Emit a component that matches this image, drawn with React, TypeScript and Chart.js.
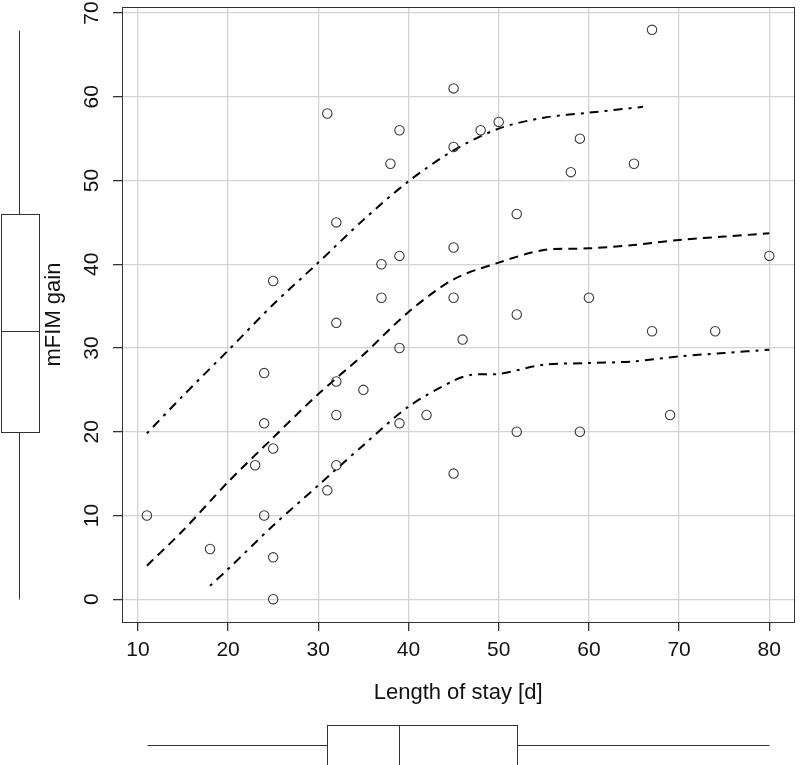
import React, { useEffect, useRef } from 'react';
import { Chart, registerables } from 'chart.js';

Chart.register(...registerables);

// Scatter data: length of stay [d] vs mFIM gain
const losDays = [11, 18, 23, 24, 24, 24, 25, 25, 25, 25, 31, 31, 32, 32, 32, 32, 32, 35, 37, 37, 38, 39, 39, 39, 39, 42, 45, 45, 45, 45, 45, 46, 48, 50, 52, 52, 52, 58, 59, 59, 60, 65, 67, 67, 69, 74, 80];
const mfimGain = [10, 6, 16, 27, 21, 10, 38, 18, 5, 0, 58, 13, 45, 33, 26, 22, 16, 25, 40, 36, 52, 56, 41, 30, 21, 22, 61, 54, 42, 36, 15, 31, 56, 57, 46, 34, 20, 51, 55, 20, 36, 52, 68, 32, 22, 32, 41];

// Quantile curves
const upperX = [11, 15, 20, 25, 30, 35, 40, 45, 50, 55, 60, 66];
const upperY = [19.8, 24.3, 29.7, 35.2, 40.2, 45.3, 49.9, 53.6, 56.2, 57.5, 58.1, 58.8];
const medianX = [11, 15, 20, 25, 30, 35, 40, 45, 50, 55, 60, 65, 70, 75, 80];
const medianY = [4.0, 8.2, 14.0, 19.3, 24.5, 29.2, 34.3, 38.2, 40.2, 41.7, 41.9, 42.3, 42.9, 43.3, 43.7];
const lowerX = [18, 20, 25, 30, 35, 40, 45, 47, 50, 55, 60, 65, 70, 75, 80];
const lowerY = [1.6, 3.6, 8.8, 13.6, 18.4, 23.0, 26.1, 26.8, 26.9, 28.0, 28.2, 28.4, 29.0, 29.4, 29.8];

// Marginal boxplots: [min, q1, median, q3, max]
const losBox = [11, 31, 39, 52, 80];
const gainBox = [0, 20, 32, 46, 68];

// Tick labels
const xTicks = [10, 20, 30, 40, 50, 60, 70, 80];
const yTicks = [0, 10, 20, 30, 40, 50, 60, 70];

const xTitle = 'Length of stay [d]';
const yTitle = 'mFIM gain';

const FONT = 'Liberation Sans, Arial, sans-serif';

const zip = (xs: number[], ys: number[]) => xs.map((x, i) => ({ x, y: ys[i] }));

const rPlotPlugin = {
  id: 'rPlot',
  afterDraw(chart: any) {
    const { ctx, chartArea: a, scales } = chart;
    const xs = scales.x;
    const ys = scales.y;
    ctx.save();
    ctx.strokeStyle = '#333';
    ctx.lineWidth = 1;
    // plot box
    ctx.strokeRect(Math.round(a.left) + 0.5, Math.round(a.top) + 0.5, Math.round(a.right - a.left), Math.round(a.bottom - a.top));

    const seg = (x1: number, y1: number, x2: number, y2: number) => {
      ctx.beginPath();
      ctx.moveTo(x1, y1);
      ctx.lineTo(x2, y2);
      ctx.stroke();
    };

    // left boxplot (mFIM gain)
    const [g0, g1, g2, g3, g4] = gainBox.map((v) => Math.round(ys.getPixelForValue(v)) + 0.5);
    const bl = 1.5, br = 39.5, bc = 19.5;
    seg(bc, g0, bc, g1);
    seg(bc, g3, bc, g4);
    ctx.strokeRect(bl, g3, br - bl, g1 - g3);
    seg(bl, g2, br, g2);

    // bottom boxplot (length of stay)
    const [l0, l1, l2, l3, l4] = losBox.map((v) => Math.round(xs.getPixelForValue(v)) + 0.5);
    const bt = 725.5, bb = 765.5, bm = 745.5;
    seg(l0, bm, l1, bm);
    seg(l3, bm, l4, bm);
    ctx.strokeRect(l1, bt, l3 - l1, bb - bt);
    seg(l2, bt, l2, bb);
    ctx.restore();
  },
};

export default function App() {
  const ref = useRef<HTMLCanvasElement | null>(null);

  useEffect(() => {
    document.body.style.margin = '0';
    const canvas = ref.current;
    if (!canvas) return;
    const lineBase = {
      type: 'line' as const,
      borderColor: '#000',
      borderWidth: 2,
      pointRadius: 0,
      fill: false,
      tension: 0.3,
    };
    const chart = new Chart(canvas, {
      type: 'scatter',
      data: {
        datasets: [
          {
            type: 'scatter',
            label: 'data',
            data: zip(losDays, mfimGain),
            pointStyle: 'circle',
            pointRadius: 4.7,
            borderColor: '#3a3a3a',
            borderWidth: 1.1,
            backgroundColor: 'rgba(0,0,0,0)',
          },
          { ...lineBase, label: 'q90', data: zip(upperX, upperY), borderDash: [3, 6, 9, 6] },
          { ...lineBase, label: 'q50', data: zip(medianX, medianY), borderDash: [9, 6] },
          { ...lineBase, label: 'q10', data: zip(lowerX, lowerY), borderDash: [3, 6, 9, 6] },
        ] as any,
      },
      options: {
        animation: false,
        responsive: false,
        devicePixelRatio: 1,
        layout: { padding: { top: 7, right: 3, left: 0, bottom: 0 } },
        plugins: { legend: { display: false }, tooltip: { enabled: false } },
        scales: {
          x: {
            type: 'linear',
            min: 8.24,
            max: 82.76,
            afterBuildTicks: (s: any) => {
              s.ticks = xTicks.map((v) => ({ value: v }));
            },
            afterFit: (s: any) => {
              s.height = 143;
              s.paddingLeft = 0;
              s.paddingRight = 0;
            },
            border: { display: false },
            grid: { color: '#d3d3d3', lineWidth: 1.3, tickColor: '#333', tickLength: 9, drawTicks: true },
            ticks: {
              color: '#111',
              font: { family: FONT, size: 21 },
              padding: 7,
              maxRotation: 0,
              minRotation: 0,
            },
            title: {
              display: true,
              text: xTitle,
              color: '#111',
              font: { family: FONT, size: 22 },
              padding: { top: 0, bottom: 59 },
            },
          },
          y: {
            type: 'linear',
            min: -2.72,
            max: 70.72,
            afterBuildTicks: (s: any) => {
              s.ticks = yTicks.map((v) => ({ value: v }));
            },
            afterFit: (s: any) => {
              s.width = 122;
              s.paddingTop = 0;
              s.paddingBottom = 0;
            },
            border: { display: false },
            grid: { color: '#d3d3d3', lineWidth: 1.3, tickColor: '#333', tickLength: 9, drawTicks: true },
            ticks: {
              color: '#111',
              font: { family: FONT, size: 21 },
              padding: 9,
              minRotation: 90,
              maxRotation: 90,
              crossAlign: 'center',
            },
            title: {
              display: true,
              text: yTitle,
              color: '#111',
              font: { family: FONT, size: 22 },
              padding: { top: 41, bottom: 0 },
            },
          },
        },
      },
      plugins: [rPlotPlugin],
    } as any);
    return () => chart.destroy();
  }, []);

  return <canvas ref={ref} width={800} height={765} style={{ display: 'block' }} />;
}
